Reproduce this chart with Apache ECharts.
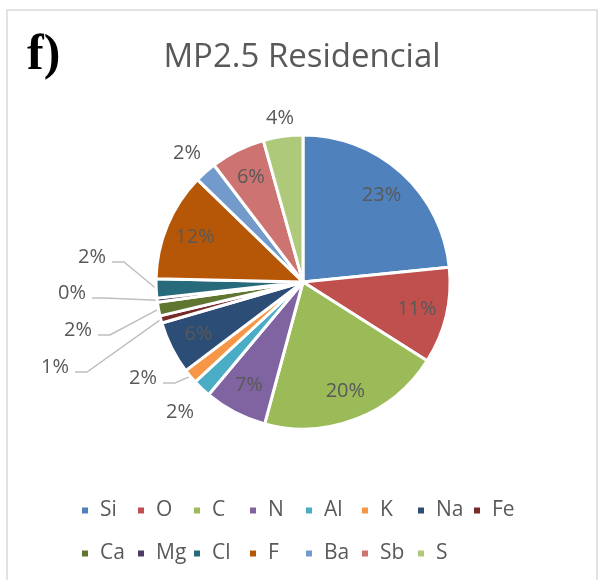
<!DOCTYPE html>
<html>
<head>
<meta charset="utf-8">
<style>
  html, body { margin: 0; padding: 0; background: #fff; }
  #chart { width: 604px; height: 580px; }
</style>
<script src="https://cdn.jsdelivr.net/npm/echarts@6/dist/echarts.min.js"></script>
</head>
<body>
<div id="chart"></div>
<script>
// 元素名称与占比
var names = ['Si', 'O', 'C', 'N', 'Al', 'K', 'Na', 'Fe', 'Ca', 'Mg', 'Cl', 'F', 'Ba', 'Sb', 'S']
var values = [23.4, 10.6, 20.2, 6.9, 2.0, 1.6, 5.8, 0.8, 1.5, 0.45, 2.1, 11.9, 2.4, 6.0, 4.35]
var colors = ['#4F81BD', '#C0504D', '#9BBB59', '#8064A2', '#4BACC6', '#F79646', '#2C4D75',
  '#772C2A', '#5F7530', '#4D3B62', '#276A7C', '#B65708', '#729ACA', '#CD7371', '#AFC97A']
// 标签放在扇区内部的元素
var insideNames = ['Si', 'O', 'C', 'N', 'Na', 'F', 'Sb']
// 外部标签位置（文字中心）
var outsidePos = {
  Al: [180, 412], K: [143, 378], Fe: [55, 367], Ca: [78, 330],
  Mg: [72, 293], Cl: [92, 257], Ba: [187, 153], S: [280, 118]
}
var lineNames = ['K', 'Fe', 'Ca', 'Mg', 'Cl']

var font = 'Open Sans'
var grey = '#595959'
var pct = function (p) { return Math.round(p.percent) + '%' }

var mainData = names.map(function (n, i) {
  var outside = insideNames.indexOf(n) < 0
  return {
    name: n,
    value: values[i],
    label: { show: outside },
    labelLine: { show: lineNames.indexOf(n) >= 0 }
  }
})
var labelData = names.map(function (n, i) {
  return { name: n, value: values[i], label: { show: insideNames.indexOf(n) >= 0 } }
})

var mCharts = echarts.init(document.getElementById('chart'))
var option = {
  color: colors,
  animation: false,
  title: {
    text: 'MP2.5 Residencial',
    left: 'center',
    top: 36,
    textStyle: { fontFamily: font, fontWeight: 'normal', fontSize: 33, color: grey }
  },
  legend: {
    data: names,
    left: 80,
    top: 489,
    width: 460,
    padding: 0,
    itemWidth: 8,
    itemHeight: 8,
    icon: 'rect',
    itemGap: 0,
    textStyle: {
      fontFamily: font, fontSize: 21, color: grey,
      width: 36, padding: [0, 0, 0, 6], lineHeight: 43
    }
  },
  graphic: [
    {
      type: 'rect',
      shape: { x: 7, y: 10, width: 590, height: 620 },
      style: { fill: 'none', stroke: '#d9d9d9', lineWidth: 1.5 },
      silent: true
    },
    {
      type: 'text',
      left: 27,
      top: 31,
      style: { text: 'f)', font: 'bold 50px "Liberation Serif"', fill: '#000' }
    }
  ],
  series: [
    {
      name: 'MP2.5',
      type: 'pie',
      center: [303, 282],
      radius: 147,
      startAngle: 90,
      avoidLabelOverlap: false,
      emphasis: { disabled: true },
      itemStyle: { borderColor: '#fff', borderWidth: 3 },
      label: {
        position: 'outside',
        formatter: pct,
        fontFamily: font, fontSize: 20, color: grey
      },
      labelLine: { lineStyle: { color: '#bfbfbf', width: 1.5 } },
      labelLayout: function (params) {
        var n = names[params.dataIndex]
        var pos = outsidePos[n]
        if (!pos) return {}
        var res = { x: pos[0], y: pos[1], align: 'center', verticalAlign: 'middle' }
        if (lineNames.indexOf(n) >= 0 && params.labelLinePoints) {
          var w = params.labelRect.width
          var end = [pos[0] + w / 2 + 6, pos[1] + 5]
          var elbow = [end[0] + 12, end[1]]
          res.labelLinePoints = [params.labelLinePoints[0], elbow, end]
        }
        return res
      },
      data: mainData
    },
    {
      // 透明的辅助饼图，只用来放内部标签
      name: 'labels',
      type: 'pie',
      center: [303, 282],
      radius: 228,
      startAngle: 90,
      silent: true,
      avoidLabelOverlap: false,
      itemStyle: { color: 'rgba(0,0,0,0)', borderWidth: 0 },
      label: {
        position: 'inside',
        formatter: pct,
        fontFamily: font, fontSize: 20, color: grey
      },
      labelLine: { show: false },
      data: labelData
    }
  ]
}
mCharts.setOption(option)
</script>
</body>
</html>
